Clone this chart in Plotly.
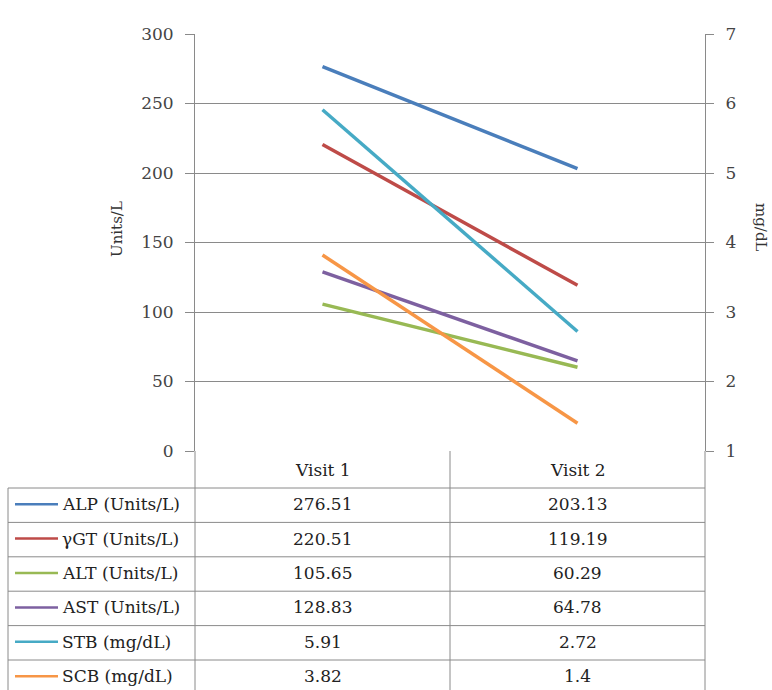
import plotly.graph_objects as go

categories = ["Visit 1", "Visit 2"]
series_names = ["ALP (Units/L)", "γGT (Units/L)", "ALT (Units/L)", "AST (Units/L)", "STB (mg/dL)", "SCB (mg/dL)"]
alp = [276.51, 203.13]
ggt = [220.51, 119.19]
alt = [105.65, 60.29]
ast = [128.83, 64.78]
stb = [5.91, 2.72]
scb = [3.82, 1.4]
series_values = [alp, ggt, alt, ast, stb, scb]
series_axis = ["y", "y", "y", "y", "y2", "y2"]
colors = ["#4A7EBB", "#BE4B48", "#98B954", "#7D60A0", "#46AAC5", "#F79646"]
left_ticks = [0, 50, 100, 150, 200, 250, 300]
right_ticks = [1, 2, 3, 4, 5, 6, 7]

W, H = 772, 690
L, R, T, B = 195, 705, 34, 451  # plot area pixel bounds
FONT = "DejaVu Serif"
GRID = "#8a8a8a"

def px(x):
    return (x - L) / (R - L)

def py(y):
    return (B - y) / (B - T)

fig = go.Figure()
for name, vals, ax, c in zip(series_names, series_values, series_axis, colors):
    fig.add_trace(go.Scatter(x=[0, 1], y=vals, mode="lines", name=name, yaxis=ax,
                             line=dict(color=c, width=3.5), showlegend=False))

shapes = []
annotations = []

header_bottom = 488
row_h = 34.4
table_left = 8
mid = (L + R) / 2
n = len(series_names)
line_style = dict(color=GRID, width=1)

for xv in [L, mid, R]:
    shapes.append(dict(type="line", xref="paper", yref="paper", x0=px(xv), x1=px(xv),
                       y0=py(B), y1=py(H + 5), line=line_style))
shapes.append(dict(type="line", xref="paper", yref="paper", x0=px(table_left), x1=px(table_left),
                   y0=py(header_bottom), y1=py(H + 5), line=line_style))
for i in range(n + 1):
    yv = header_bottom + i * row_h
    shapes.append(dict(type="line", xref="paper", yref="paper", x0=px(table_left), x1=px(R),
                       y0=py(yv), y1=py(yv), line=line_style))

TXT = dict(family=FONT, size=17, color="#222")
for j, cat in enumerate(categories):
    annotations.append(dict(xref="paper", yref="paper", x=px(L + (j + 0.5) * (R - L) / 2), y=py(469.5),
                            text=cat, showarrow=False, xanchor="center", yanchor="middle", font=TXT))
for i, (name, vals, c) in enumerate(zip(series_names, series_values, colors)):
    yc = header_bottom + (i + 0.5) * row_h - 1
    shapes.append(dict(type="line", xref="paper", yref="paper", x0=px(15), x1=px(58),
                       y0=py(yc), y1=py(yc), line=dict(color=c, width=2.5)))
    annotations.append(dict(xref="paper", yref="paper", x=px(60), y=py(yc), text=name,
                            showarrow=False, xanchor="left", yanchor="middle", font=TXT))
    for j, v in enumerate(vals):
        annotations.append(dict(xref="paper", yref="paper", x=px(L + (j + 0.5) * (R - L) / 2), y=py(yc),
                                text=f"{v:g}", showarrow=False, xanchor="center", yanchor="middle",
                                font=TXT))

annotations.append(dict(xref="paper", yref="paper", x=px(117), y=py(229), text="Units/L", textangle=-90,
                        showarrow=False, xanchor="center", yanchor="middle",
                        font=dict(family=FONT, size=15, color="#333")))
annotations.append(dict(xref="paper", yref="paper", x=px(761), y=py(227), text="mg/dL", textangle=90,
                        showarrow=False, xanchor="center", yanchor="middle",
                        font=dict(family=FONT, size=15, color="#333")))

TICKF = dict(family=FONT, size=17, color="#444")
fig.update_layout(
    width=W, height=H,
    margin=dict(l=L, r=W - R, t=T, b=H - B, pad=0),
    paper_bgcolor="white", plot_bgcolor="white",
    xaxis=dict(range=[-0.5, 1.5], showticklabels=False, showgrid=False, zeroline=False,
               showline=False, ticks="", fixedrange=True),
    yaxis=dict(range=[0, 300], tickvals=left_ticks, showgrid=True, gridcolor=GRID, gridwidth=1,
               zeroline=False, showline=True, linecolor=GRID, linewidth=1, ticks="outside",
               ticklen=9, tickcolor=GRID, ticklabelstandoff=8, tickfont=TICKF),
    yaxis2=dict(range=[1, 7], tickvals=right_ticks, overlaying="y", side="right", showgrid=False,
                zeroline=False, showline=True, linecolor=GRID, linewidth=1, ticks="outside",
                ticklen=8, tickcolor=GRID, ticklabelstandoff=8, tickfont=TICKF),
    shapes=shapes, annotations=annotations,
)

fig.write_html("out.html")
